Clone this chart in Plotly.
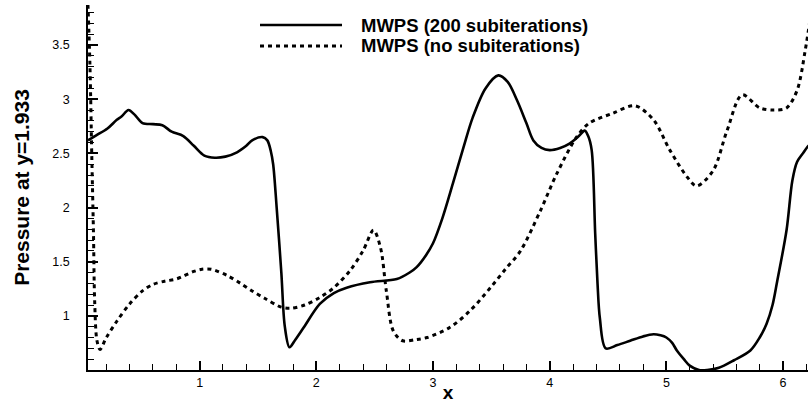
import plotly.graph_objects as go

# Pressure along the line y = 1.933 for two MWPS runs
x_sub200 = [0.043, 0.12, 0.21, 0.29, 0.33, 0.39, 0.44, 0.51, 0.60, 0.68, 0.76, 0.86, 0.95,
            1.04, 1.13, 1.22, 1.32, 1.40, 1.45, 1.54, 1.58, 1.61, 1.63, 1.66, 1.70, 1.73,
            1.77, 1.82, 1.89, 2.03, 2.15, 2.26, 2.46, 2.69, 2.80, 2.86, 2.94, 3.00, 3.08,
            3.17, 3.26, 3.34, 3.45, 3.56, 3.64, 3.72, 3.80, 3.86, 3.93, 4.00, 4.09, 4.17,
            4.25, 4.30, 4.33, 4.36, 4.39, 4.41, 4.43, 4.48, 4.58, 4.69, 4.80, 4.89, 4.95,
            5.00, 5.05, 5.09, 5.15, 5.20, 5.28, 5.35, 5.45, 5.58, 5.72, 5.80, 5.86, 5.91,
            5.95, 6.03, 6.08, 6.12, 6.17, 6.21, 6.25]
p_sub200 = [2.62, 2.67, 2.73, 2.81, 2.84, 2.90, 2.86, 2.78, 2.77, 2.76, 2.70, 2.66, 2.57,
            2.48, 2.46, 2.47, 2.51, 2.57, 2.62, 2.65, 2.62, 2.52, 2.40, 2.00, 1.40, 0.90,
            0.71, 0.78, 0.89, 1.11, 1.21, 1.26, 1.31, 1.34, 1.40, 1.45, 1.56, 1.67, 1.90,
            2.22, 2.55, 2.83, 3.10, 3.22, 3.16, 2.99, 2.78, 2.62, 2.55, 2.53, 2.55, 2.59,
            2.66, 2.71, 2.66, 2.53, 1.76, 1.30, 0.98, 0.70, 0.73, 0.77, 0.81, 0.83, 0.82,
            0.80, 0.75, 0.68, 0.60, 0.54, 0.50, 0.50, 0.52, 0.59, 0.68, 0.80, 0.93, 1.10,
            1.32, 1.79, 2.25, 2.42, 2.50, 2.56, 2.60]

x_nosub = [0.04, 0.06, 0.075, 0.09, 0.10, 0.12, 0.146, 0.20, 0.29, 0.40, 0.51, 0.60, 0.70,
           0.80, 0.95, 1.02, 1.10, 1.24, 1.35, 1.45, 1.56, 1.70, 1.78, 1.90, 2.03, 2.15,
           2.29, 2.40, 2.49, 2.55, 2.60, 2.66, 2.74, 2.85, 2.95, 3.14, 3.32, 3.50, 3.62,
           3.75, 3.92, 4.06, 4.23, 4.34, 4.54, 4.73, 4.89, 5.03, 5.18, 5.26, 5.40, 5.52,
           5.65, 5.80, 5.92, 6.03, 6.12, 6.19, 6.24]
p_nosub = [3.95, 3.30, 2.50, 1.76, 1.14, 0.77, 0.69, 0.80, 0.95, 1.11, 1.23, 1.29, 1.32,
           1.34, 1.41, 1.43, 1.43, 1.37, 1.30, 1.23, 1.16, 1.08, 1.07, 1.10, 1.17, 1.26,
           1.42, 1.60, 1.79, 1.63, 1.23, 0.86, 0.77, 0.78, 0.80, 0.89, 1.05, 1.27, 1.43,
           1.60, 1.97, 2.31, 2.65, 2.78, 2.87, 2.94, 2.81, 2.53, 2.28, 2.20, 2.34, 2.71,
           3.04, 2.92, 2.90, 2.92, 3.08, 3.45, 3.80]

series_names = ["MWPS (200 subiterations)", "MWPS (no subiterations)"]
x_ticks = [1, 2, 3, 4, 5, 6]
y_ticks = [1, 1.5, 2, 2.5, 3, 3.5]

FONT = "Liberation Sans, Arial, Helvetica, sans-serif"

fig = go.Figure()
fig.add_trace(go.Scatter(x=x_sub200, y=p_sub200, mode="lines", name=series_names[0],
                         line=dict(color="black", width=2.6, shape="spline", smoothing=0.9)))
fig.add_trace(go.Scatter(x=x_nosub, y=p_nosub, mode="lines", name=series_names[1],
                         line=dict(color="black", width=3, dash="4px,4px",
                                   shape="spline", smoothing=0.9)))

# Hand-placed legend (paper coordinates of the plot area)
L, R, T, B = 88, 808, 5, 370
W, H = R - L, B - T
def px(xp):
    return (xp - L) / W
def py(yp):
    return (B - yp) / H

for i, (dash, yrow) in enumerate([("solid", 25), ("dot", 46)]):
    fig.add_shape(type="line", xref="paper", yref="paper",
                  x0=px(260), x1=px(342), y0=py(yrow), y1=py(yrow),
                  line=dict(color="black", width=2.6 if dash == "solid" else 3,
                            dash="solid" if dash == "solid" else "4px,4px"))
    fig.add_annotation(xref="paper", yref="paper", x=px(359), y=py(yrow),
                       xanchor="left", yanchor="middle", showarrow=False,
                       text="<b>%s</b>" % series_names[i],
                       font=dict(family=FONT, size=18.5, color="black"))

fig.update_layout(
    width=808, height=403,
    margin=dict(l=L, r=0, t=T, b=403 - B),
    paper_bgcolor="white", plot_bgcolor="white",
    showlegend=False,
    font=dict(family=FONT, color="black"),
)
fig.update_xaxes(
    range=[0.043, 6.214], tickvals=x_ticks, ticktext=[str(v) for v in x_ticks],
    showgrid=False, zeroline=False, showline=True, linecolor="black", linewidth=1.5,
    ticks="inside", ticklen=9, tickwidth=1.5, tickcolor="black",
    tickfont=dict(size=12.5, family=FONT),
    minor=dict(dtick=0.2, tick0=0, ticks="inside", ticklen=6, tickwidth=1, tickcolor="black",
               showgrid=False),
    title=dict(text="<b>x</b>", font=dict(size=19, family=FONT), standoff=4),
    automargin=False,
)
fig.update_yaxes(
    range=[0.5, 3.87], tickvals=y_ticks, ticktext=["1", "1.5", "2", "2.5", "3", "3.5"],
    showgrid=False, zeroline=False, showline=True, linecolor="black", linewidth=1.5,
    ticks="inside", ticklen=10, tickwidth=1.5, tickcolor="black",
    tickfont=dict(size=12.5, family=FONT), ticklabelstandoff=14,
    minor=dict(dtick=0.1, tick0=0, ticks="inside", ticklen=6, tickwidth=1, tickcolor="black",
               showgrid=False),
    title=dict(text="<b>Pressure at y=1.933</b>", font=dict(size=21, family=FONT), standoff=17),
    automargin=False,
)

fig.write_html("out.html")
